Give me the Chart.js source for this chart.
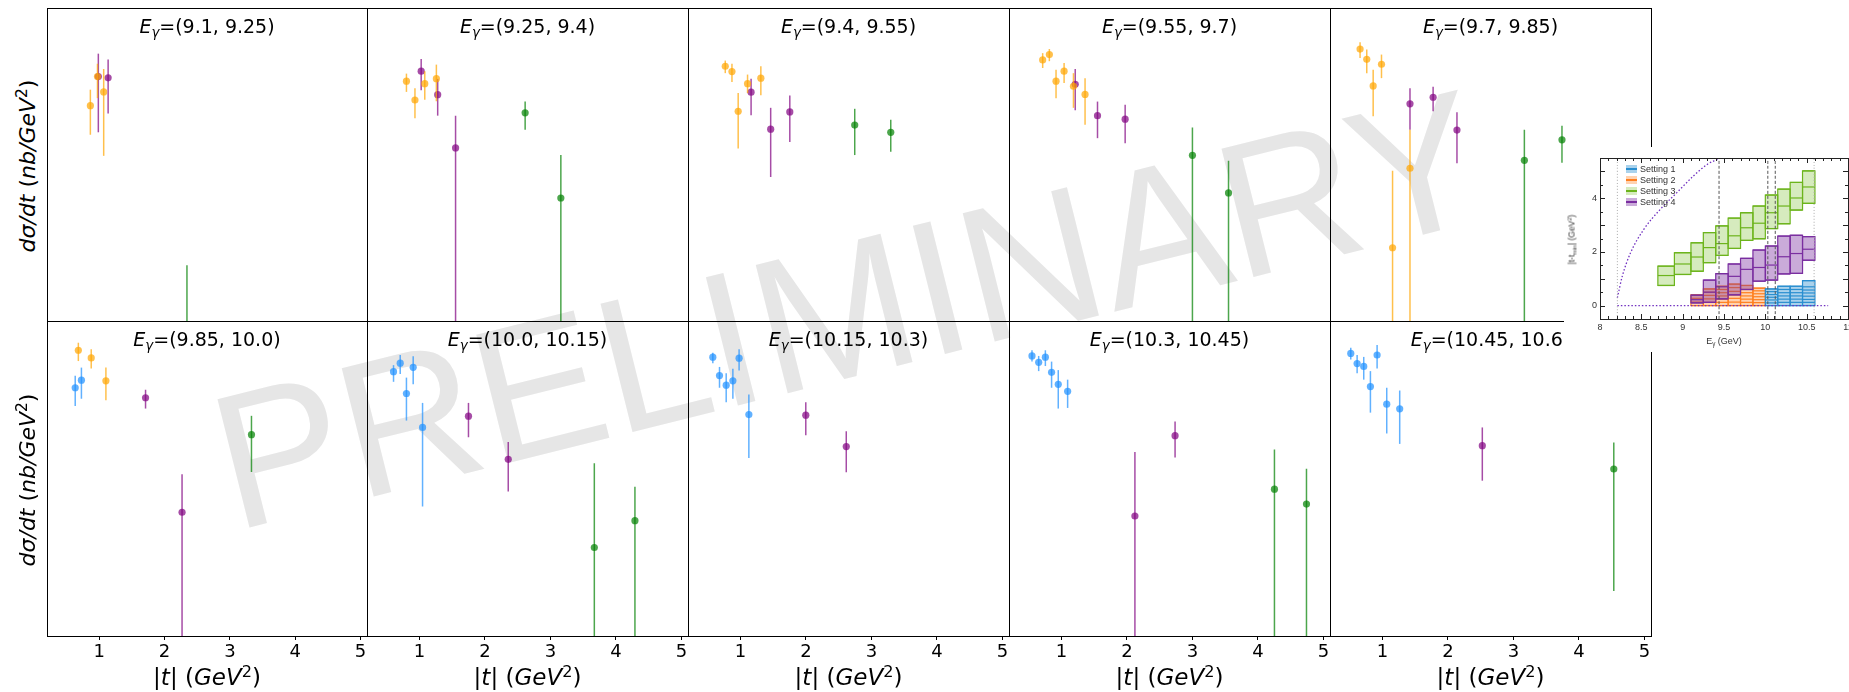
<!DOCTYPE html>
<html>
<head>
<meta charset="utf-8">
<script src="https://cdn.jsdelivr.net/npm/chart.js@4.4.1/dist/chart.umd.min.js"></script>
<style>
  html, body { margin: 0; padding: 0; background: #fff; }
  #page { position: relative; width: 1849px; height: 692px; overflow: hidden; font-family: 'DejaVu Sans', sans-serif; color: #000; }
  canvas { position: absolute; z-index: 1; }
  .wm { position: absolute; left: 195px; top: 374px; font: 192px/1 'Liberation Sans', Arial, sans-serif; color: #e6e6e6;
        transform-origin: 0 0; transform: rotate(-14deg); white-space: nowrap; z-index: 0; }
  .ptitle { position: absolute; font-size: 19px; line-height: 19px; text-align: center; white-space: nowrap; z-index: 2; }
  .xtitle { position: absolute; font-size: 23px; line-height: 23px; text-align: center; white-space: nowrap; z-index: 2; }
  .ytitle { position: absolute; width: 300px; font-size: 22px; line-height: 22px; text-align: center; white-space: nowrap;
            transform: rotate(-90deg); z-index: 2; }
  .sub { font-size: 0.7em; position: relative; top: 0.3em; }
  .sup { font-size: 0.7em; position: relative; top: -0.5em; }
  #inset { z-index: 3; background: #fff; }
  .ins { position: absolute; font-family: 'Liberation Sans', Arial, sans-serif; color: #333; white-space: nowrap; z-index: 4; }
  .patch { position: absolute; width: 11px; height: 8px; z-index: 4; }
</style>
</head>
<body>
<div id="page">
  <div class="wm">PRELIMINARY</div>
</div>
<script>
// photon energy bins, one per panel
const energyBins = ['(9.1, 9.25)', '(9.25, 9.4)', '(9.4, 9.55)', '(9.55, 9.7)', '(9.7, 9.85)',
                    '(9.85, 10.0)', '(10.0, 10.15)', '(10.15, 10.3)', '(10.3, 10.45)', '(10.45, 10.6)'];
const tTicks = [1, 2, 3, 4, 5];

// each point: [|t|, dsigma/dt, lower end of error, upper end of error]  (nb/GeV^2)
const setting1Pts = [
  [], [], [], [], [],
  [[0.632, 1.42, 0.832, 2.01], [0.727, 1.77, 1.03, 2.56]],
  [[0.605, 2.27, 1.69, 2.75], [0.707, 2.91, 2.13, 3.70], [0.802, 1.20, 0.544, 1.91], [0.905, 2.58, 1.57, 3.56], [1.048, 0.445, 0.0441, 0.912]],
  [[0.579, 3.47, 2.91, 3.94], [0.681, 2.03, 1.42, 2.61], [0.783, 1.53, 0.929, 2.17], [0.885, 1.74, 1.03, 2.47], [0.980, 3.37, 2.36, 4.37], [1.129, 0.649, 0.182, 1.17]],
  [[0.551, 3.60, 3.05, 4.25], [0.653, 2.99, 2.31, 3.60], [0.755, 3.47, 2.68, 4.25], [0.850, 2.23, 1.42, 3.05], [0.952, 1.57, 0.773, 2.38], [1.095, 1.28, 0.787, 1.80]],
  [[0.517, 3.87, 3.25, 4.57], [0.614, 2.88, 2.17, 3.70], [0.715, 2.65, 1.80, 3.50], [0.817, 1.47, 0.686, 2.31], [0.919, 3.70, 2.49, 4.97], [1.066, 0.879, 0.373, 1.42], [1.264, 0.766, 0.275, 1.31]]
];
const setting2Pts = [
  [[0.864, 0.565, 0.240, 0.904], [0.973, 1.33, 0.705, 1.94], [1.068, 0.847, 0.129, 1.66]],
  [[0.802, 1.16, 0.847, 1.45], [0.932, 0.667, 0.391, 0.946], [1.082, 1.08, 0.673, 1.56], [1.259, 1.25, 0.643, 1.89]],
  [[0.769, 1.80, 1.47, 2.13], [0.871, 1.54, 1.13, 1.94], [0.966, 0.479, 0.160, 0.817], [1.109, 1.08, 0.817, 1.41], [1.312, 1.27, 0.766, 1.80]],
  [[0.714, 2.17, 1.71, 2.65], [0.816, 2.54, 2.09, 2.99], [0.918, 1.16, 0.705, 1.63], [1.041, 1.56, 1.10, 1.98], [1.184, 1.00, 0.530, 1.47], [1.361, 0.787, 0.322, 1.27]],
  [[0.659, 2.99, 2.29, 3.66], [0.761, 2.21, 1.47, 2.94], [0.859, 1.01, 0.413, 1.63], [0.986, 1.91, 1.27, 2.54], [1.155, 0.00863, 1e-5, 0.0832], [1.421, 0.0895, 1e-5, 0.278]],
  [[0.680, 4.25, 3.10, 5.30], [0.877, 3.40, 2.49, 4.37], [1.102, 1.74, 0.982, 2.56]],
  [], [], [], []
];
const setting3Pts = [
  [[2.343, 0.0006, 1e-5, 0.00515]],
  [[2.614, 0.457, 0.278, 0.637], [3.159, 0.0373, 1e-5, 0.132]],
  [[2.745, 0.319, 0.132, 0.515], [3.295, 0.258, 0.145, 0.373]],
  [[3.000, 0.131, 1e-5, 0.296], [3.551, 0.0433, 1e-5, 0.112]],
  [[3.167, 0.113, 1e-5, 0.278], [3.741, 0.207, 0.105, 0.313]],
  [[3.331, 0.360, 0.121, 0.625]],
  [[3.670, 0.0133, 1e-5, 0.156], [4.290, 0.0291, 1e-5, 0.0787]],
  [],
  [[4.252, 0.0731, 1e-5, 0.233], [4.741, 0.0474, 1e-5, 0.133]],
  [[4.532, 0.132, 0.00373, 0.286]]
];
const setting4Pts = [
  [[0.986, 1.33, 0.258, 2.61], [1.136, 1.28, 0.449, 2.19]],
  [[1.027, 1.56, 0.887, 2.23], [1.279, 0.780, 0.421, 1.24], [1.552, 0.163, 1e-5, 0.421]],
  [[1.163, 0.839, 0.425, 1.25], [1.462, 0.283, 0.0692, 0.530], [1.754, 0.470, 0.194, 0.759]],
  [[1.211, 1.06, 0.492, 1.66], [1.551, 0.421, 0.217, 0.637], [1.973, 0.380, 0.187, 0.581]],
  [[1.421, 0.597, 0.278, 0.946], [1.774, 0.724, 0.479, 0.982], [2.138, 0.275, 0.104, 0.466]],
  [[1.709, 1.06, 0.773, 1.34], [2.268, 0.0373, 1e-5, 0.113]],
  [[1.749, 0.619, 0.334, 0.912], [2.356, 0.175, 0.0685, 0.291]],
  [[1.998, 0.637, 0.353, 0.929], [2.616, 0.254, 0.120, 0.398]],
  [[2.122, 0.0334, 1e-5, 0.217], [2.735, 0.350, 0.185, 0.530]],
  [[2.525, 0.261, 0.0938, 0.445]]
];

// inset: |t - tmin| coverage of each setting vs beam energy
const insetETicks = [8, 8.5, 9, 9.5, 10, 10.5, 11];
const insetTTicks = [0, 2, 4];
const setting1EEdges = [10.0, 10.15, 10.3, 10.45, 10.6];
const setting1TEdges = [
  [0, 0.10, 0.21, 0.31, 0.41, 0.52, 0.62],
  [0, 0.12, 0.24, 0.36, 0.48, 0.60, 0.72],
  [0, 0.12, 0.24, 0.36, 0.48, 0.60, 0.72],
  [0, 0.12, 0.23, 0.35, 0.47, 0.58, 0.70, 0.93]
];
const setting2EEdges = [9.1, 9.25, 9.4, 9.55, 9.7, 9.85, 10.0];
const setting2TEdges = [
  [0, 0.13, 0.27, 0.40],
  [0, 0.12, 0.25, 0.38, 0.50, 0.62],
  [0, 0.12, 0.24, 0.36, 0.48, 0.60, 0.72],
  [0, 0.13, 0.27, 0.40, 0.53, 0.67, 0.80],
  [0, 0.12, 0.24, 0.36, 0.48, 0.60, 0.75],
  [0, 0.11, 0.22, 0.33, 0.44, 0.55, 0.65]
];
const setting3EEdges = [8.7, 8.9, 9.1, 9.25, 9.4, 9.55, 9.7, 9.85, 10.0, 10.15, 10.3, 10.45, 10.6];
const setting3Lo  = [0.75, 1.16, 1.28, 1.60, 1.87, 2.13, 2.43, 2.49, 2.87, 3.05, 3.56, 3.81];
const setting3Mid = [1.12, 1.55, 1.81, 2.16, 2.31, 2.60, 2.90, 3.07, 3.46, 3.71, 4.01, 4.42];
const setting3Hi  = [1.47, 1.97, 2.34, 2.72, 2.97, 3.26, 3.46, 3.71, 4.12, 4.34, 4.59, 5.02];
const setting4EEdges = [9.1, 9.25, 9.4, 9.55, 9.7, 9.85, 10.0, 10.15, 10.3, 10.45, 10.6];
const setting4Lo  = [0.10, 0.12, 0.25, 0.40, 0.60, 0.91, 0.95, 1.18, 1.20, 1.69];
const setting4Mid = [0.22, 0.50, 0.70, 1.09, 1.35, 1.42, 1.51, 1.82, 1.94, 2.10];
const setting4Hi  = [0.39, 0.95, 1.19, 1.55, 1.76, 2.07, 2.22, 2.59, 2.62, 2.57];
const kinLimitE = [8.21, 8.27, 8.37, 8.53, 8.73, 8.93, 9.13, 9.30, 9.44, 9.46];
const kinLimitT = [0.29, 1.10, 1.97, 2.84, 3.59, 4.21, 4.83, 5.27, 5.48, 5.52];
const tMinLineE = [8.21, 10.76];
const boundaryE = [8.21, 9.44, 10.03, 10.12, 10.59];

const colours = {
  s1: 'rgba(30, 144, 255, 0.7)',
  s2: 'rgba(255, 165, 0, 0.7)',
  s3: 'rgba(0, 128, 0, 0.7)',
  s4: 'rgba(128, 0, 128, 0.7)'
};
const insetStroke = ['#2a8fd0', '#ff7f1e', '#6cb41c', '#7a2ea0'];
const insetFill = ['rgba(42,143,208,0.4)', 'rgba(255,127,30,0.35)', 'rgba(120,190,40,0.3)', 'rgba(122,46,160,0.4)'];

const colEdges = [47, 367, 688, 1009, 1330, 1651];
const rowEdges = [8, 321, 636];

Chart.defaults.font.family = "'DejaVu Sans', sans-serif";
const page = document.getElementById('page');

// vertical error bars, drawn just before each dataset's markers
const errorBars = {
  id: 'errorBars',
  beforeDatasetDraw(chart, args) {
    const ds = chart.data.datasets[args.index];
    const { ctx, chartArea: a, scales: { x, y } } = chart;
    ctx.save();
    ctx.beginPath();
    ctx.rect(a.left, a.top, a.right - a.left, a.bottom - a.top);
    ctx.clip();
    ctx.strokeStyle = ds.borderColor;
    ctx.lineWidth = 1.5;
    ds.data.forEach(p => {
      const px = x.getPixelForValue(p.x);
      ctx.beginPath();
      ctx.moveTo(px, y.getPixelForValue(p.yMin));
      ctx.lineTo(px, y.getPixelForValue(p.yMax));
      ctx.stroke();
    });
    ctx.restore();
  }
};

const frame = {
  id: 'frame',
  afterDraw(chart) {
    const { ctx, chartArea: a } = chart;
    ctx.save();
    ctx.strokeStyle = '#000';
    ctx.lineWidth = 1;
    ctx.strokeRect(Math.round(a.left) + 0.5, Math.round(a.top) + 0.5,
                   Math.round(a.right - a.left), Math.round(a.bottom - a.top));
    ctx.restore();
  }
};

function toPoints(arr) {
  return arr.map(p => ({ x: p[0], y: p[1], yMin: p[2], yMax: p[3] }));
}

function makePanel(i) {
  const col = i % 5, row = Math.floor(i / 5);
  const left = colEdges[col], right = colEdges[col + 1];
  const top = rowEdges[row], bottom = rowEdges[row + 1];
  const below = row === 1 ? 40 : 5;

  const cv = document.createElement('canvas');
  cv.width = right - left + 10;
  cv.height = bottom - top + 5 + below;
  cv.style.left = (left - 5) + 'px';
  cv.style.top = (top - 5) + 'px';
  page.appendChild(cv);

  const series = [
    [setting2Pts[i], colours.s2],
    [setting1Pts[i], colours.s1],
    [setting4Pts[i], colours.s4],
    [setting3Pts[i], colours.s3]
  ];

  new Chart(cv, {
    type: 'scatter',
    data: {
      datasets: series.map(([pts, c]) => ({
        data: toPoints(pts),
        backgroundColor: c,
        borderColor: c,
        borderWidth: 0,
        pointRadius: 3.6,
        clip: 0
      }))
    },
    options: {
      responsive: false,
      animation: false,
      events: [],
      layout: { padding: { left: 5, right: 5, top: 5, bottom: row === 1 ? 0 : 5 } },
      plugins: { legend: { display: false }, tooltip: { enabled: false } },
      scales: {
        x: {
          type: 'linear', min: 0.2, max: 5.1, bounds: 'data',
          display: row === 1,
          afterBuildTicks: s => { s.ticks = tTicks.map(v => ({ value: v })); },
          afterFit: row === 1 ? (s => { s.height = 40; s.paddingLeft = 0; s.paddingRight = 0; }) : undefined,
          grid: { display: true, drawOnChartArea: false, drawTicks: true, tickLength: 4, color: '#000' },
          border: { display: false },
          ticks: { padding: 2, color: '#000', font: { size: 18 }, maxRotation: 0, autoSkip: false }
        },
        y: { type: 'logarithmic', min: 1e-3, max: 10, bounds: 'data', display: false }
      }
    },
    plugins: [errorBars, frame]
  });

  // panel title
  const t = document.createElement('div');
  t.className = 'ptitle';
  t.style.left = left + 'px';
  t.style.width = (right - left) + 'px';
  t.style.top = (top + 9) + 'px';
  t.innerHTML = '<i>E</i><span class="sub"><i>γ</i></span>=' + energyBins[i];
  page.appendChild(t);

  if (row === 1) {
    const xt = document.createElement('div');
    xt.className = 'xtitle';
    xt.style.left = left + 'px';
    xt.style.width = (right - left) + 'px';
    xt.style.top = '666px';
    xt.innerHTML = '|<i>t</i>| (<i>GeV</i><span class="sup">2</span>)';
    page.appendChild(xt);
  }
}

for (let i = 0; i < 10; i++) makePanel(i);

// y titles, one per row
[0, 1].forEach(r => {
  const yt = document.createElement('div');
  yt.className = 'ytitle';
  yt.style.left = (29 - 150) + 'px';
  yt.style.top = ((rowEdges[r] + rowEdges[r + 1]) / 2 - 11) + 'px';
  yt.innerHTML = '<i>dσ/dt</i> (<i>nb/GeV</i><span class="sup">2</span>)';
  page.appendChild(yt);
});

// ---------- inset ----------
function drawColumn(ctx, x, y, e0, e1, edges, fill, stroke) {
  const l = x.getPixelForValue(e0), r = x.getPixelForValue(e1);
  const tp = y.getPixelForValue(edges[edges.length - 1]), bt = y.getPixelForValue(edges[0]);
  ctx.fillStyle = fill;
  ctx.fillRect(l, tp, r - l, bt - tp);
  ctx.strokeStyle = stroke;
  ctx.strokeRect(l, tp, r - l, bt - tp);
  edges.forEach(v => {
    const py = y.getPixelForValue(v);
    ctx.beginPath(); ctx.moveTo(l, py); ctx.lineTo(r, py); ctx.stroke();
  });
}

const insetBoxes = {
  id: 'insetBoxes',
  beforeDatasetsDraw(chart) {
    const { ctx, chartArea: a, scales: { x, y } } = chart;
    ctx.save();
    ctx.beginPath();
    ctx.rect(a.left, a.top, a.right - a.left, a.bottom - a.top);
    ctx.clip();
    ctx.lineWidth = 1.2;
    setting2TEdges.forEach((edges, k) =>
      drawColumn(ctx, x, y, setting2EEdges[k], setting2EEdges[k + 1], edges, insetFill[1], insetStroke[1]));
    setting1TEdges.forEach((edges, k) =>
      drawColumn(ctx, x, y, setting1EEdges[k], setting1EEdges[k + 1], edges, insetFill[0], insetStroke[0]));
    setting3Mid.forEach((m, k) =>
      drawColumn(ctx, x, y, setting3EEdges[k], setting3EEdges[k + 1], [setting3Lo[k], m, setting3Hi[k]], insetFill[2], insetStroke[2]));
    setting4Mid.forEach((m, k) =>
      drawColumn(ctx, x, y, setting4EEdges[k], setting4EEdges[k + 1], [setting4Lo[k], m, setting4Hi[k]], insetFill[3], insetStroke[3]));
    ctx.restore();
  }
};

const insetFrame = {
  id: 'insetFrame',
  afterDraw(chart) {
    const { ctx, chartArea: a, scales: { x, y } } = chart;
    ctx.save();
    ctx.strokeStyle = '#222';
    ctx.lineWidth = 1;
    ctx.strokeRect(Math.round(a.left) + 0.5, Math.round(a.top) + 0.5,
                   Math.round(a.right - a.left), Math.round(a.bottom - a.top));
    ctx.beginPath();
    for (let k = 0; k <= 30; k++) {
      const px = Math.round(x.getPixelForValue(8 + k / 10)) + 0.5;
      const len = k % 5 === 0 ? 5 : 3;
      ctx.moveTo(px, a.bottom); ctx.lineTo(px, a.bottom - len);
      ctx.moveTo(px, a.top); ctx.lineTo(px, a.top + len);
    }
    for (let k = 0; k <= 11; k++) {
      const py = Math.round(y.getPixelForValue(k / 2)) + 0.5;
      const len = k % 2 === 0 ? 5 : 3;
      ctx.moveTo(a.left, py); ctx.lineTo(a.left + len, py);
      ctx.moveTo(a.right, py); ctx.lineTo(a.right - len, py);
    }
    ctx.stroke();
    ctx.restore();
  }
};

const insetCanvas = document.createElement('canvas');
insetCanvas.id = 'inset';
insetCanvas.width = 285;
insetCanvas.height = 205;
insetCanvas.style.left = '1564px';
insetCanvas.style.top = '147px';
page.appendChild(insetCanvas);

const insetFont = { family: "'Liberation Sans', Arial, sans-serif", size: 9 };
const lineDs = (pts, color, dash, width) => ({
  type: 'line', data: pts, borderColor: color, borderDash: dash, borderWidth: width,
  pointRadius: 0, fill: false, clip: 0, cubicInterpolationMode: 'monotone'
});

new Chart(insetCanvas, {
  type: 'line',
  data: {
    datasets: [
      ...boundaryE.map((e, k) => lineDs([{ x: e, y: -0.5 }, { x: e, y: 5.5 }],
        (k === 0 || k === 4) ? '#aaa' : '#555', (k === 0 || k === 4) ? [1, 2] : [3, 2], 1)),
      lineDs(kinLimitE.map((e, k) => ({ x: e, y: kinLimitT[k] })), '#7030c0', [1.5, 2], 1.3),
      lineDs(tMinLineE.map(e => ({ x: e, y: 0 })), '#7030c0', [1.5, 2], 1.3)
    ]
  },
  options: {
    responsive: false,
    animation: false,
    events: [],
    layout: { padding: { left: 0, right: 1, top: 11, bottom: 0 } },
    plugins: { legend: { display: false }, tooltip: { enabled: false } },
    scales: {
      x: {
        type: 'linear', min: 8, max: 11, bounds: 'data',
        afterBuildTicks: s => { s.ticks = insetETicks.map(v => ({ value: v })); },
        afterFit: s => { s.height = 33; s.paddingLeft = 0; s.paddingRight = 0; },
        grid: { display: false, drawTicks: false }, border: { display: false },
        ticks: { padding: 3, color: '#333', font: insetFont, maxRotation: 0, autoSkip: false, callback: v => String(v) }
      },
      y: {
        type: 'linear', min: -0.5, max: 5.5, bounds: 'data',
        afterBuildTicks: s => { s.ticks = insetTTicks.map(v => ({ value: v })); },
        afterFit: s => { s.width = 36; s.paddingTop = 0; s.paddingBottom = 0; },
        grid: { display: false, drawTicks: false }, border: { display: false },
        ticks: { padding: 3, color: '#333', font: insetFont, autoSkip: false, callback: v => String(v) }
      }
    }
  },
  plugins: [insetBoxes, insetFrame]
});

// inset legend and axis titles
['Setting 1', 'Setting 2', 'Setting 3', 'Setting 4'].forEach((label, k) => {
  const cy = 169.3 + 11 * k;
  const p = document.createElement('div');
  p.className = 'patch';
  p.style.left = '1626px';
  p.style.top = (cy - 4) + 'px';
  p.style.background = 'linear-gradient(to bottom, ' + insetFill[k] + ' 0 40%, ' + insetStroke[k] + ' 40% 62%, ' + insetFill[k] + ' 62% 100%)';
  page.appendChild(p);
  const tx = document.createElement('div');
  tx.className = 'ins';
  tx.style.left = '1640px';
  tx.style.top = (cy - 5.5) + 'px';
  tx.style.fontSize = '9px';
  tx.style.lineHeight = '11px';
  tx.textContent = label;
  page.appendChild(tx);
});

const insX = document.createElement('div');
insX.className = 'ins';
insX.style.cssText += 'left:1674px;width:100px;text-align:center;top:336px;font-size:9px;line-height:10px;';
insX.innerHTML = 'E<span class="sub">γ</span> (GeV)';
page.appendChild(insX);

const insY = document.createElement('div');
insY.className = 'ins';
insY.style.cssText += 'left:1522px;width:100px;text-align:center;top:234px;font-size:8.5px;line-height:10px;transform:rotate(-90deg);';
insY.innerHTML = '|t-t<span class="sub">min</span>| (GeV<span class="sup">2</span>)';
page.appendChild(insY);
</script>
</body>
</html>
